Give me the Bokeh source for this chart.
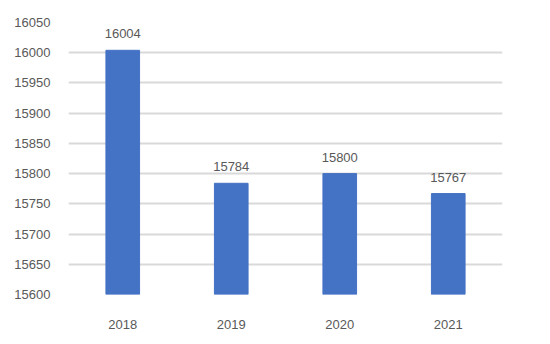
from bokeh.plotting import figure
from bokeh.models import ColumnDataSource, FixedTicker, Range1d
from bokeh.core.properties import value
from bokeh.embed import file_html
from bokeh.resources import INLINE

years = ["2018", "2019", "2020", "2021"]
counts = [16004, 15784, 15800, 15767]
y_ticks = [15600, 15650, 15700, 15750, 15800, 15850, 15900, 15950, 16000, 16050]

FONT = "Liberation Sans"
GRAY = "#595959"

src = ColumnDataSource(dict(x=years, top=counts, label=[str(c) for c in counts]))

p = figure(x_range=years, y_range=Range1d(15600, 16050), width=550, height=344,
           output_backend="svg", toolbar_location=None,
           min_border_left=68, min_border_right=48, min_border_top=22, min_border_bottom=50)
p.outline_line_color = None
p.background_fill_color = "white"
p.border_fill_color = "white"

p.vbar(x="x", top="top", bottom=15600, width=0.31, source=src,
       fill_color="#4472C4", line_color="#4472C4")
p.text(x="x", y="top", text="label", source=src, text_align="center",
       text_baseline="bottom", y_offset=-12, text_font=value(FONT),
       text_font_size="13px", text_color=GRAY)

p.yaxis.ticker = FixedTicker(ticks=y_ticks)
p.yaxis.axis_line_color = None
p.yaxis.major_tick_line_color = None
p.yaxis.minor_tick_line_color = None
p.yaxis.major_label_text_font = FONT
p.yaxis.major_label_text_font_size = "13px"
p.yaxis.major_label_text_color = GRAY
p.yaxis.major_label_standoff = 12

p.xaxis.axis_line_color = None
p.xaxis.major_tick_line_color = None
p.xaxis.major_label_text_font = FONT
p.xaxis.major_label_text_font_size = "13px"
p.xaxis.major_label_text_color = GRAY
p.xaxis.major_label_standoff = 19

p.xgrid.grid_line_color = None
p.ygrid.grid_line_color = "#d9d9d9"
p.ygrid.grid_line_width = 2
p.ygrid.level = "underlay"

open("out.html", "w").write(file_html(p, INLINE))
